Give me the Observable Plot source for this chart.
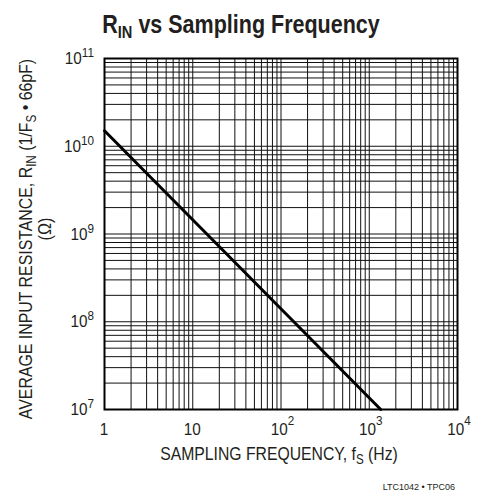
<!DOCTYPE html>
<html>
<head>
<meta charset="utf-8">
<script src="https://cdn.jsdelivr.net/npm/d3@7"></script>
<script src="https://cdn.jsdelivr.net/npm/@observablehq/plot@0.6"></script>
<style>
  body { margin: 0; background: #fff; width: 488px; height: 492px; overflow: hidden; position: relative; }
  #title { position: absolute; left: 0; top: 12px; width: 482px; text-align: center;
    font: bold 25px "Liberation Sans", Arial, sans-serif;
    line-height: 25px; color: #231f20; white-space: nowrap;
    transform: scaleX(0.86); transform-origin: 241px 0; }
  #title .sub { font-size: 17px; position: relative; top: 5px; }
  #chart { position: absolute; left: 0; top: 40px; }
</style>
</head>
<body>
<div id="title">R<span class="sub">IN</span> vs Sampling Frequency</div>
<div id="chart"></div>
<script>
// ---- data ----
const freqHz = [1, 1350];            // sampling frequency (Hz)
const rinOhm = [1.5e10, 1e7];        // average input resistance (Ω)

const xTickValues = [1, 10, 100, 1000, 10000];
const xTickBase   = ["1", "10", "10", "10", "10"];
const xTickExp    = ["", "", "2", "3", "4"];

const yTickValues = [1e7, 1e8, 1e9, 1e10, 1e11];
const yTickBase   = ["10", "10", "10", "10", "10"];
const yTickExp    = ["7", "8", "9", "10", "11"];

const xDecades = [1, 10, 100, 1000];
const yDecades = [1e7, 1e8, 1e9, 1e10];
const minorSteps = [1, 2, 3, 4, 5, 6, 7, 8, 9];

const FONT = '"Liberation Sans", Arial, sans-serif';
const INK = "#231f20";

const xGrid = xDecades.flatMap(d => minorSteps.map(k => k * d)).concat([1e4]);
const yGrid = yDecades.flatMap(d => minorSteps.map(k => k * d)).concat([1e11]);
const curve = freqHz.map((f, i) => ({f, r: rinOhm[i]}));

const plot = Plot.plot({
  width: 488,
  height: 452,
  marginTop: 18,
  marginBottom: 83,
  marginLeft: 104,
  marginRight: 31,
  style: {fontFamily: FONT, background: "#fff", color: INK},
  x: {type: "log", domain: [1, 1e4], axis: null},
  y: {type: "log", domain: [1e7, 1e11], axis: null},
  marks: [
    Plot.ruleX(xGrid, {stroke: "#111", strokeWidth: 1}),
    Plot.ruleY(yGrid, {stroke: "#111", strokeWidth: 1}),
    Plot.line(curve, {x: "f", y: "r", stroke: "#000", strokeWidth: 3}),
    Plot.frame({stroke: "#000", strokeWidth: 2})
  ]
});
document.getElementById("chart").appendChild(plot);

const sx = plot.scale("x"), sy = plot.scale("y");
const svg = d3.select(plot);
const bottom = 452 - 83;

// helper: text with horizontal condensing (Helvetica Condensed look)
function label(x, y, {rotate = 0, squeeze = 1, size = 17, anchor = "middle"} = {}) {
  return svg.append("text")
    .attr("transform", `translate(${x},${y}) rotate(${rotate}) scale(${squeeze},1)`)
    .attr("text-anchor", anchor)
    .attr("font-family", FONT).attr("font-size", size).attr("fill", INK);
}

// y tick labels
yTickValues.forEach((v, i) => {
  const t = label(94, sy.apply(v) + 6, {squeeze: 0.9, size: 17, anchor: "end"});
  t.append("tspan").text(yTickBase[i]);
  t.append("tspan").attr("font-size", 13).attr("dy", -7).text(yTickExp[i]);
});

// x tick labels
xTickValues.forEach((v, i) => {
  const t = label(sx.apply(v) + (xTickExp[i] ? 2 : 0), bottom + 26, {squeeze: 0.9, size: 17});
  t.append("tspan").text(xTickBase[i]);
  if (xTickExp[i]) t.append("tspan").attr("font-size", 13).attr("dy", -10).text(xTickExp[i]);
});

// x axis title
{
  const t = label(279, 420, {squeeze: 0.83, size: 19});
  t.append("tspan").text("SAMPLING FREQUENCY, f");
  t.append("tspan").attr("font-size", 14).attr("dy", 4).text("S");
  t.append("tspan").attr("dy", -4).text(" (Hz)");
}

// y axis title (two lines)
{
  const t = label(32, 199, {rotate: -90, squeeze: 0.836, size: 19});
  t.append("tspan").text("AVERAGE INPUT RESISTANCE, R");
  t.append("tspan").attr("font-size", 14).attr("dy", 4).text("IN");
  t.append("tspan").attr("dy", -4).text(" (1/F");
  t.append("tspan").attr("font-size", 14).attr("dy", 4).text("S");
  t.append("tspan").attr("dy", -4).text(" \u2022 66pF)");
  label(51, 189, {rotate: -90, squeeze: 0.85, size: 19}).text("(\u03A9)");
}

// caption
label(455, 450, {size: 9, anchor: "end"}).text("LTC1042 \u2022 TPC06");
</script>
</body>
</html>
